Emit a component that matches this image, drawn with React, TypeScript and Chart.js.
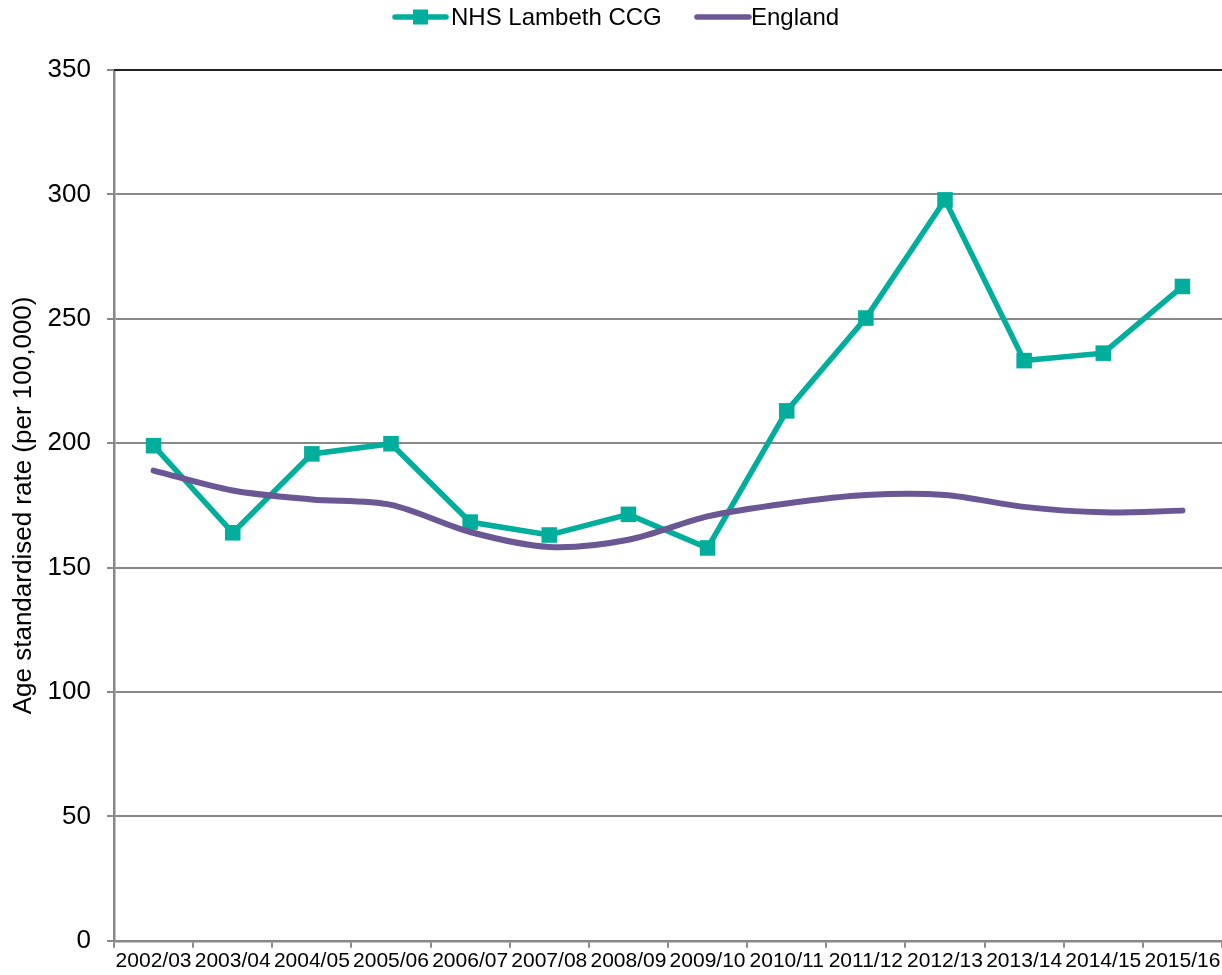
import React, { useEffect, useRef } from "react";
import { Chart, registerables } from "chart.js";

Chart.register(...registerables);

const categories = [
  "2002/03", "2003/04", "2004/05", "2005/06", "2006/07", "2007/08", "2008/09",
  "2009/10", "2010/11", "2011/12", "2012/13", "2013/14", "2014/15", "2015/16",
];
const lambeth = [199, 164, 195.7, 199.8, 168.3, 163.1, 171.4, 157.9, 213, 250.3, 297.8, 233.2, 236.2, 263];
const england = [189, 181, 177.4, 175.2, 164.3, 158.3, 161.2, 170.6, 175.8, 179.2, 179.2, 174.4, 172.2, 172.9];
const yTicks = [0, 50, 100, 150, 200, 250, 300, 350];

const TEAL = "#00AE9B";
const PURPLE = "#6C5795";
const GRID = "#888888";
const FONT = "'Liberation Sans', Arial, sans-serif";

const legendPlugin = {
  id: "customLegend",
  afterDraw(chart: any) {
    const ctx = chart.ctx;
    ctx.save();
    const y = 17;
    ctx.lineCap = "round";
    ctx.lineWidth = 5.5;
    ctx.strokeStyle = TEAL;
    ctx.beginPath();
    ctx.moveTo(395, y);
    ctx.lineTo(446, y);
    ctx.stroke();
    ctx.fillStyle = TEAL;
    ctx.fillRect(413, y - 7.5, 15, 15);
    ctx.strokeStyle = PURPLE;
    ctx.beginPath();
    ctx.moveTo(697, y);
    ctx.lineTo(749, y);
    ctx.stroke();
    ctx.fillStyle = "#000";
    ctx.font = `24px ${FONT}`;
    ctx.textBaseline = "middle";
    ctx.textAlign = "left";
    ctx.fillText("NHS Lambeth CCG", 451, y + 1);
    ctx.fillText("England", 751, y + 1);
    ctx.restore();
  },
};

const topLinePlugin = {
  id: "topLine",
  afterDatasetsDraw(chart: any) {
    const { ctx, chartArea } = chart;
    ctx.save();
    ctx.strokeStyle = "#000";
    ctx.lineWidth = 1.5;
    ctx.beginPath();
    ctx.moveTo(chartArea.left, chartArea.top);
    ctx.lineTo(chartArea.right, chartArea.top);
    ctx.stroke();
    ctx.restore();
  },
};

export default function App() {
  const ref = useRef<HTMLCanvasElement>(null);
  useEffect(() => {
    document.body.style.margin = "0";
    const chart = new Chart(ref.current!, {
      type: "line",
      data: {
        labels: categories,
        datasets: [
          {
            label: "NHS Lambeth CCG",
            data: lambeth,
            borderColor: TEAL,
            backgroundColor: TEAL,
            borderWidth: 5.5,
            pointStyle: "rect",
            pointRadius: 11,
            pointBorderWidth: 0,
            tension: 0,
            clip: false,
            order: 2,
          },
          {
            label: "England",
            data: england,
            borderColor: PURPLE,
            backgroundColor: PURPLE,
            borderWidth: 6,
            pointRadius: 0,
            tension: 0.3,
            borderCapStyle: "round",
            clip: false,
            order: 1,
          },
        ],
      },
      options: {
        animation: false,
        responsive: false,
        layout: { autoPadding: false, padding: { top: 70, right: 0, left: 0, bottom: 0 } },
        plugins: { legend: { display: false }, tooltip: { enabled: false } },
        scales: {
          x: {
            offset: true,
            afterFit(scale: any) {
              scale.paddingRight = 0;
              scale.paddingLeft = 0;
            },
            grid: {
              offset: true,
              drawOnChartArea: false,
              drawTicks: true,
              tickLength: 7,
              color: GRID,
              lineWidth: 2,
            },
            border: { color: GRID, width: 2.5 },
            ticks: {
              color: "#000",
              font: { family: FONT, size: 21 },
              maxRotation: 0,
              autoSkip: false,
              padding: 1,
            },
          },
          y: {
            min: 0,
            max: 350,
            afterFit(scale: any) {
              scale.width = 114;
              scale.paddingTop = 0;
            },
            afterBuildTicks(scale: any) {
              scale.ticks = yTicks.map((v) => ({ value: v }));
            },
            grid: {
              color: GRID,
              lineWidth: 2,
              tickLength: 7,
            },
            border: { color: GRID, width: 2.5 },
            ticks: {
              color: "#000",
              font: { family: FONT, size: 26 },
              padding: 16,
            },
            title: {
              display: true,
              text: "Age standardised rate (per 100,000)",
              color: "#000",
              font: { family: FONT, size: 26 },
              padding: { top: 8, bottom: 0 },
            },
          },
        },
      },
      plugins: [legendPlugin, topLinePlugin],
    });
    return () => chart.destroy();
  }, []);
  return (
    <div style={{ position: "absolute", left: 0, top: 0, width: 1222, height: 975 }}>
      <canvas ref={ref} width={1222} height={975} style={{ display: "block" }} />
    </div>
  );
}
